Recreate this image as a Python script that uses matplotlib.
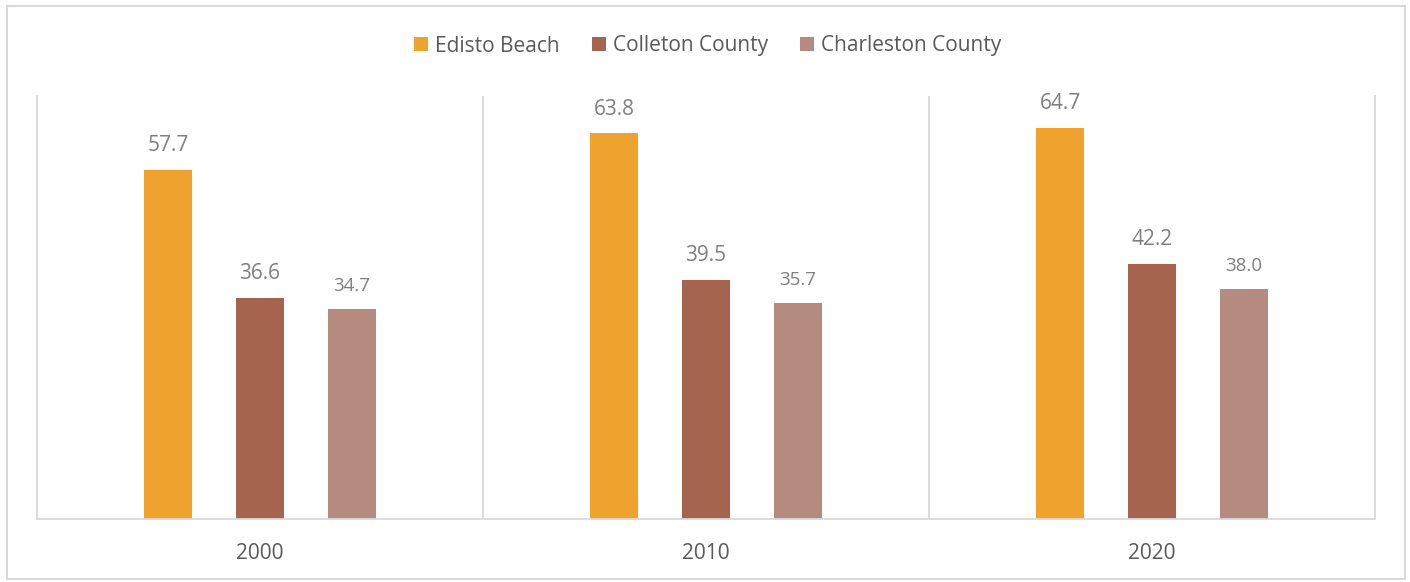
import numpy as np
import matplotlib.pyplot as plt
from matplotlib.patches import Rectangle

years = ['2000', '2010', '2020']
series = ['Edisto Beach', 'Colleton County', 'Charleston County']
edisto = [57.7, 63.8, 64.7]
colleton = [36.6, 39.5, 42.2]
charleston = [34.7, 35.7, 38.0]
colors = ['#EFA22E', '#A5644E', '#B58B7F']

plt.rcParams['font.family'] = ['Open Sans', 'DejaVu Sans']

fig = plt.figure(figsize=(14.1, 5.82), dpi=100)
ax = fig.add_axes([37 / 1410, 1 - 519 / 582, 1338 / 1410, 423 / 582])

x = np.arange(len(years))
offsets = [-0.206, 0.0, 0.206]
label_sizes = [15, 15, 13.5]
for vals, name, col, off, fs in zip([edisto, colleton, charleston], series, colors, offsets, label_sizes):
    bars = ax.bar(x + off, vals, width=0.108, color=col, label=name)
    for b, v in zip(bars, vals):
        ax.annotate(f'{v:.1f}', (b.get_x() + b.get_width() / 2, v),
                    xytext=(0, 10), textcoords='offset points',
                    ha='center', va='bottom', fontsize=fs, color='#7F7F7F')

ax.set_xlim(-0.5, 2.5)
ax.set_ylim(0, 70)
ax.set_yticks([])
ax.set_xticks(x)
ax.set_xticklabels(years, fontsize=15, color='#595959')
ax.tick_params(axis='x', length=0, pad=17)

# light gray frame and separators between the year groups
for s in ['left', 'right', 'bottom']:
    ax.spines[s].set_color('#D9D9D9')
    ax.spines[s].set_linewidth(1.3)
ax.spines['top'].set_visible(False)
for xs in [0.5, 1.5]:
    ax.axvline(xs, color='#D9D9D9', lw=1.3)

fig.legend(loc='center', bbox_to_anchor=(0.502, 1 - 46 / 582), ncol=3, frameon=False,
           fontsize=15, labelcolor='#595959', handlelength=0.65, handleheight=0.65,
           handletextpad=0.35, columnspacing=1.55)

fig.patches.append(Rectangle((6.5 / 1410, 3 / 582), 1398 / 1410, 573 / 582,
                             transform=fig.transFigure, fill=False,
                             edgecolor='#D9D9D9', lw=1.5))

fig.savefig('out.png', dpi=100)
